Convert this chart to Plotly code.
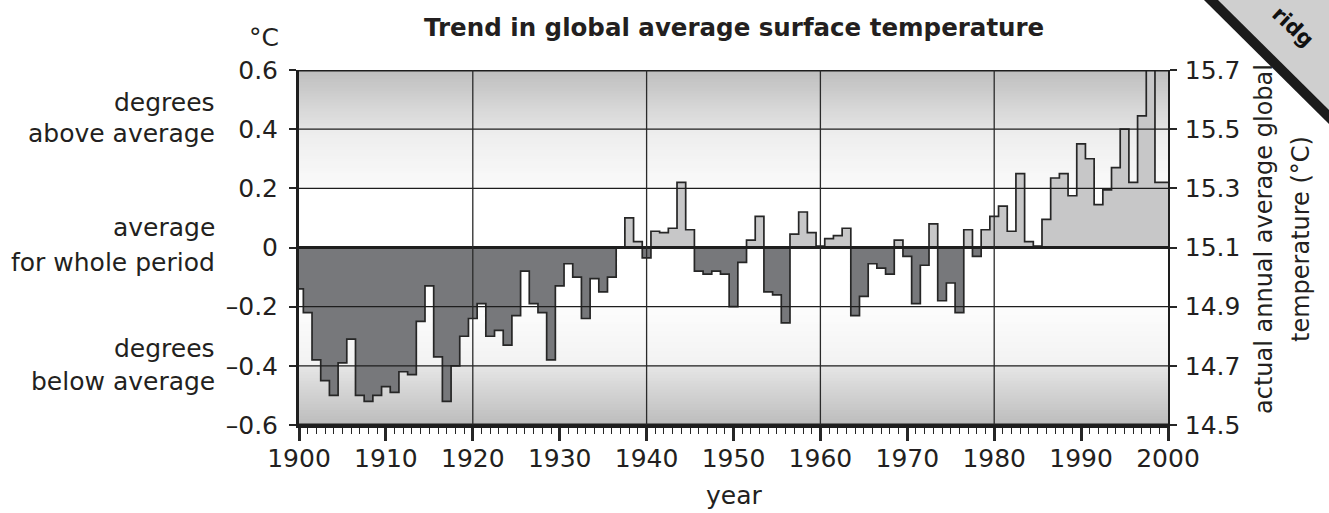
import plotly.graph_objects as go

# ---------------- data ----------------
years = list(range(1900, 2001))
anomaly = [
    -0.14, -0.22, -0.38, -0.45, -0.50, -0.39, -0.31, -0.50, -0.52, -0.50,   # 1900-1909
    -0.47, -0.49, -0.42, -0.43, -0.25, -0.13, -0.37, -0.52, -0.40, -0.30,   # 1910-1919
    -0.24, -0.19, -0.30, -0.28, -0.33, -0.23, -0.08, -0.19, -0.22, -0.38,   # 1920-1929
    -0.13, -0.055, -0.10, -0.24, -0.105, -0.15, -0.10, 0.0, 0.10, 0.02,     # 1930-1939
    -0.035, 0.055, 0.05, 0.065, 0.22, 0.06, -0.08, -0.09, -0.08, -0.09,     # 1940-1949
    -0.20, -0.05, 0.025, 0.105, -0.15, -0.16, -0.255, 0.045, 0.12, 0.05,    # 1950-1959
    0.005, 0.03, 0.04, 0.065, -0.23, -0.165, -0.055, -0.07, -0.09, 0.025,   # 1960-1969
    -0.03, -0.19, -0.06, 0.08, -0.18, -0.12, -0.22, 0.06, -0.03, 0.06,      # 1970-1979
    0.105, 0.14, 0.055, 0.25, 0.02, 0.005, 0.095, 0.235, 0.25, 0.175,       # 1980-1989
    0.35, 0.30, 0.145, 0.195, 0.27, 0.40, 0.22, 0.445, 0.60, 0.22,          # 1990-1999
    0.22,                                                                    # 2000
]
baseline_temp = 15.1
y_ticks = [-0.6, -0.4, -0.2, 0, 0.2, 0.4, 0.6]
y_tick_labels = ["–0.6", "–0.4", "–0.2", "0", "0.2", "0.4", "0.6"]
y2_ticks = [14.5, 14.7, 14.9, 15.1, 15.3, 15.5, 15.7]
y2_tick_labels = ["14.5", "14.7", "14.9", "15.1", "15.3", "15.5", "15.7"]
x_ticks = list(range(1900, 2001, 10))
x_grid = [1920, 1940, 1960, 1980]

title_text = "Trend in global average surface temperature"
left_notes = [
    ("degrees", 0.49), ("above average", 0.385),
    ("average", 0.068), ("for whole period", -0.052),
    ("degrees", -0.34), ("below average", -0.452),
]

# ---------------- geometry derived from data ----------------
# step edges: each year's value spans [year-0.5, year+0.5], clipped to axis range
x_edges = [years[0]] + [y - 0.5 for y in years[1:]] + [years[-1]]
pos_vals = [max(v, 0) for v in anomaly]
neg_vals = [min(v, 0) for v in anomaly]
pos_step = pos_vals + [pos_vals[-1]]
neg_step = neg_vals + [neg_vals[-1]]
actual_temp = [baseline_temp + v for v in anomaly]

FONT = "DejaVu Sans, Liberation Sans, Arial, sans-serif"
TXT = "#231f20"
LINE = "#262626"

fig = go.Figure()

fig.add_trace(go.Scatter(
    x=x_edges, y=neg_step, mode="lines", line=dict(shape="hv", color=LINE, width=1.7),
    fill="tozeroy", fillcolor="#77787b", hoverinfo="skip", showlegend=False))
fig.add_trace(go.Scatter(
    x=x_edges, y=pos_step, mode="lines", line=dict(shape="hv", color=LINE, width=1.7),
    fill="tozeroy", fillcolor="#c7c7c8", hoverinfo="skip", showlegend=False))
# invisible trace on the right-hand (absolute temperature) axis
fig.add_trace(go.Scatter(
    x=years, y=actual_temp, yaxis="y2", mode="lines", line=dict(width=0, color="rgba(0,0,0,0)"),
    hoverinfo="skip", showlegend=False))

shapes = []


def band_gray(y):
    if y >= 0.4:
        t = (y - 0.4) / 0.2
        return 228 - t * 38
    if y >= 0.2:
        t = (y - 0.2) / 0.2
        return 251 - t * 15
    if y >= -0.2:
        return 255
    if y >= -0.4:
        t = (-0.2 - y) / 0.2
        return 253 - t * 11
    t = (-0.4 - y) / 0.2
    return 230 - t * 42


n = 120
for i in range(n):
    y0 = -0.6 + i * 0.01
    y1 = min(y0 + 0.02, 0.6)
    g = int(round(band_gray(y0 + 0.005)))
    shapes.append(dict(type="rect", xref="paper", yref="y", x0=0, x1=1, y0=y0, y1=y1,
                       fillcolor=f"rgb({g},{g},{g})", line=dict(width=0), layer="below"))

# grid lines drawn above the bars
for yv in y_ticks:
    w = 3 if yv in (-0.6, 0, 0.6) else 1.3
    shapes.append(dict(type="line", xref="paper", yref="y", x0=0, x1=1, y0=yv, y1=yv,
                       line=dict(color="#1e1e1e", width=w), layer="above"))
for xv in x_grid:
    shapes.append(dict(type="line", xref="x", yref="paper", x0=xv, x1=xv, y0=0, y1=1,
                       line=dict(color="#2a2a2a", width=1.3), layer="above"))


# corner watermark ribbon
def px(xp):
    return (xp - 299) / 869


def py(yp):
    return (425 - yp) / 355


shapes.append(dict(type="path", xref="paper", yref="paper",
                   path=f"M {px(1204)} {py(0)} L {px(1329)} {py(0)} L {px(1329)} {py(124)} Z",
                   fillcolor="#1b1b1b", line=dict(width=0), layer="above"))
shapes.append(dict(type="path", xref="paper", yref="paper",
                   path=f"M {px(1218)} {py(0)} L {px(1329)} {py(0)} L {px(1329)} {py(110)} Z",
                   fillcolor="#cfcfcf", line=dict(width=0), layer="above"))

annotations = []
for text, yv in left_notes:
    annotations.append(dict(text=text, xref="paper", yref="y", x=px(217), y=yv,
                            xanchor="right", yanchor="middle", showarrow=False,
                            font=dict(family=FONT, size=25, color=TXT)))
annotations.append(dict(text="°C", xref="paper", yref="paper", x=px(281), y=py(38),
                        xanchor="right", yanchor="middle", showarrow=False,
                        font=dict(family=FONT, size=25, color=TXT)))
annotations.append(dict(text="year", xref="paper", yref="paper", x=0.5, y=py(495),
                        xanchor="center", yanchor="middle", showarrow=False,
                        font=dict(family=FONT, size=25, color=TXT)))
annotations.append(dict(text="actual annual average global", xref="paper", yref="paper",
                        x=px(1264), y=py(239), textangle=-90, xanchor="center", yanchor="middle",
                        showarrow=False, font=dict(family=FONT, size=24, color=TXT)))
annotations.append(dict(text="temperature (°C)", xref="paper", yref="paper",
                        x=px(1301), y=py(239), textangle=-90, xanchor="center", yanchor="middle",
                        showarrow=False, font=dict(family=FONT, size=24, color=TXT)))
annotations.append(dict(text="<b>" + title_text + "</b>", xref="paper", yref="paper",
                        x=0.5, y=py(28), xanchor="center", yanchor="middle", showarrow=False,
                        font=dict(family=FONT, size=24.5, color=TXT)))
annotations.append(dict(text="<b>ridg</b>", xref="paper", yref="paper",
                        x=px(1293), y=py(27), textangle=43, xanchor="center", yanchor="middle",
                        showarrow=False, font=dict(family=FONT, size=21, color="#111111")))

fig.update_layout(
    width=1329, height=513, autosize=False,
    margin=dict(l=299, r=161, t=70, b=88),
    paper_bgcolor="white", plot_bgcolor="white",
    showlegend=False,
    shapes=shapes, annotations=annotations,
    xaxis=dict(
        range=[1900, 2000], tickvals=x_ticks, ticktext=[str(v) for v in x_ticks],
        ticks="outside", ticklen=13, tickwidth=2.5, tickcolor=LINE,
        showline=True, linewidth=3, linecolor="#1e1e1e",
        showgrid=False, zeroline=False, ticklabelstandoff=-4,
        tickfont=dict(family=FONT, size=25, color=TXT),
        minor=dict(dtick=1, tick0=1900, ticks="outside", ticklen=6, tickwidth=1.2, tickcolor=LINE,
                   showgrid=False),
    ),
    yaxis=dict(
        range=[-0.6, 0.6], tickvals=y_ticks, ticktext=y_tick_labels,
        ticks="outside", ticklen=7, tickwidth=1.5, tickcolor=LINE,
        showline=True, linewidth=3, linecolor="#1e1e1e",
        showgrid=False, zeroline=False, ticklabelstandoff=6,
        tickfont=dict(family=FONT, size=25, color=TXT),
    ),
    yaxis2=dict(
        range=[14.5, 15.7], tickvals=y2_ticks, ticktext=y2_tick_labels,
        overlaying="y", side="right", anchor="x",
        ticks="outside", ticklen=7, tickwidth=1.5, tickcolor=LINE,
        showline=True, linewidth=1.5, linecolor="#1e1e1e",
        showgrid=False, zeroline=False, ticklabelstandoff=3,
        tickfont=dict(family=FONT, size=25, color=TXT),
    ),
)

fig.write_html(
    "out.html",
    config={"displayModeBar": False},
    post_script="document.body.style.margin='0px';document.body.style.padding='0px';"
                "document.body.style.overflow='hidden';",
)
